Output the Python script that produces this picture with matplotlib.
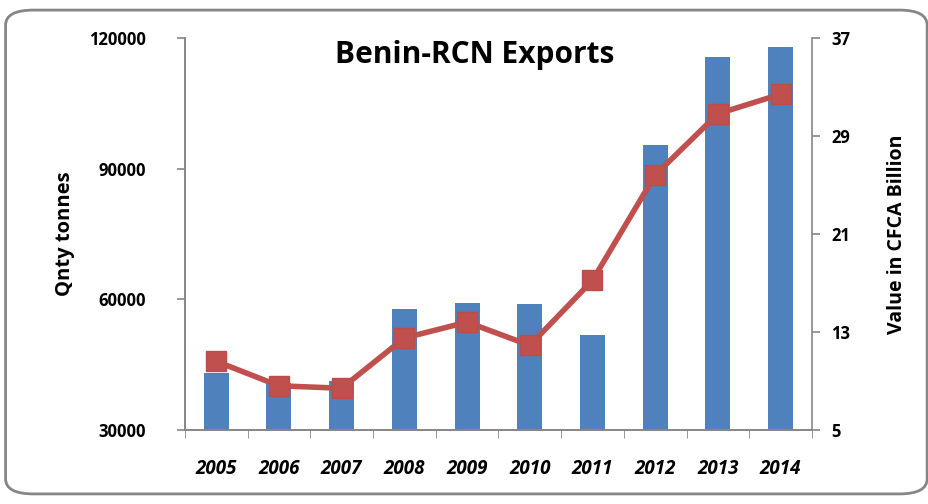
import matplotlib
matplotlib.use("Agg")
import matplotlib.pyplot as plt
from matplotlib.patches import FancyBboxPatch

# data
years = ["2005", "2006", "2007", "2008", "2009", "2010", "2011", "2012", "2013", "2014"]
qty_tonnes = [43000, 40800, 41300, 57800, 59200, 58900, 51800, 95400, 115500, 118000]
value_bn = [10.6, 8.6, 8.4, 12.5, 13.8, 11.9, 17.2, 25.8, 30.8, 32.4]

left_ticks = [30000, 60000, 90000, 120000]
right_ticks = [5, 13, 21, 29, 37]

plt.rcParams["font.family"] = ["Open Sans", "DejaVu Sans"]

fig = plt.figure(figsize=(9.29, 5.04), dpi=100)
ax = fig.add_axes([0.199, 0.147, 0.675, 0.778])

x = list(range(len(years)))
ax.bar(x, qty_tonnes, width=0.4, color="#4F81BD", zorder=2)
ax.set_ylim(30000, 120000)
ax.set_xlim(-0.5, len(years) - 0.5)
ax.set_yticks(left_ticks)
ax.set_yticklabels([str(t) for t in left_ticks], fontsize=12, fontweight="bold")
ax.set_xticks(x)
ax.set_xticklabels(years, fontsize=13.5, fontweight="bold", style="italic")
ax.tick_params(axis="x", length=0, pad=21)
ax.set_xticks([i - 0.5 for i in range(len(years) + 1)], minor=True)
ax.tick_params(axis="x", which="minor", length=6, color="#868686", direction="out")
ax.tick_params(axis="y", length=6, color="#868686", width=1.2, pad=22)
ax.set_ylabel("Qnty tonnes", fontsize=14.5, fontweight="bold", labelpad=10)

ax2 = ax.twinx()
ax2.plot(x, value_bn, color="#C0504D", lw=4, marker="s", markersize=15,
         markerfacecolor="#C0504D", markeredgecolor="#BE4B48", zorder=3)
ax2.set_ylim(5, 37)
ax2.set_yticks(right_ticks)
ax2.set_yticklabels([str(t) for t in right_ticks], fontsize=12, fontweight="bold")
ax2.tick_params(axis="y", length=6, color="#868686", width=1.2, pad=8)
ax2.set_ylabel("Value in CFCA Billion", fontsize=14, fontweight="bold", labelpad=26)

for a in (ax, ax2):
    a.spines["top"].set_visible(False)
    for s in ("left", "right", "bottom"):
        a.spines[s].set_color("#868686")
        a.spines[s].set_linewidth(1.2)
ax.spines["right"].set_visible(False)

fig.text(475 / 929, 1 - 55 / 504, "Benin-RCN Exports", fontsize=21.5,
         fontweight="bold", ha="center", va="center")

border = FancyBboxPatch((0.006, 0.02), 0.992, 0.96, transform=fig.transFigure,
                        boxstyle="round,pad=0,rounding_size=0.03",
                        facecolor="none", edgecolor="#868686", lw=2)
fig.patches.append(border)

fig.savefig("out.png", dpi=100)
